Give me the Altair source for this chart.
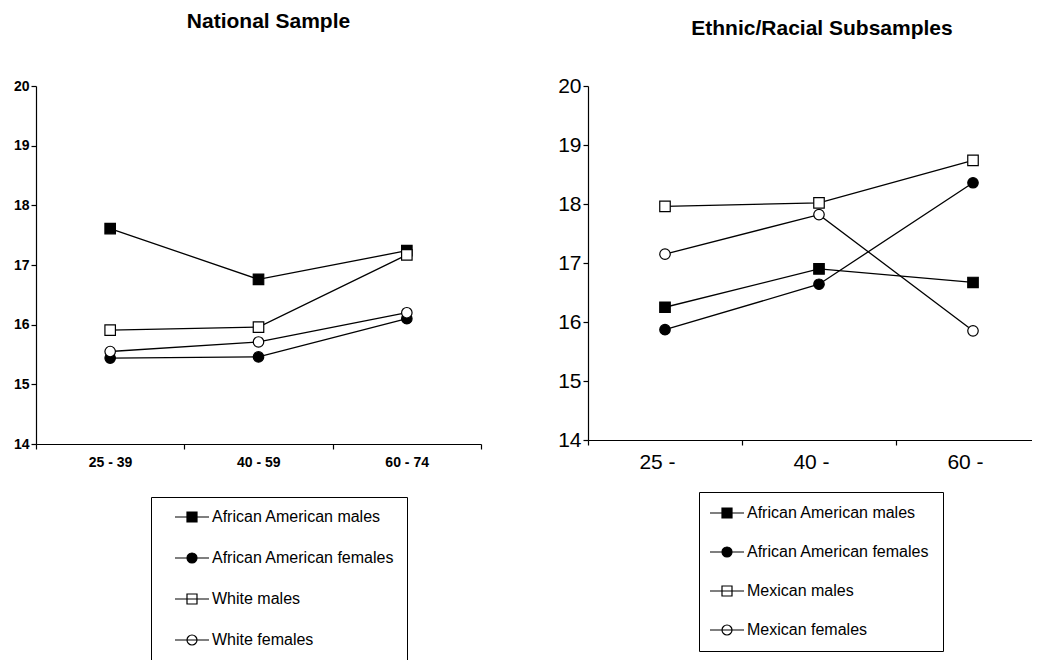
import altair as alt
import pandas as pd

# ---------------- data ----------------
left_groups = ["25 - 39", "40 - 59", "60 - 74"]
right_groups = ["25 -", "40 -", "60 -"]

left_series = ["African American males", "African American females", "White males", "White females"]
right_series = ["African American males", "African American females", "Mexican males", "Mexican females"]

left_aa_males = [17.61, 16.76, 17.24]
left_aa_females = [15.44, 15.46, 16.10]
left_white_males = [15.91, 15.96, 17.17]
left_white_females = [15.55, 15.71, 16.20]

right_aa_males = [16.25, 16.90, 16.67]
right_aa_females = [15.87, 16.64, 18.36]
right_mex_males = [17.96, 18.02, 18.74]
right_mex_females = [17.15, 17.82, 15.85]

y_ticks = [14, 15, 16, 17, 18, 19, 20]

# styles
shapes = ["square", "circle", "square", "circle"]
fills = ["black", "black", "white", "white"]
strokes = ["black", "black", "black", "black"]
legend_paths = [
    "M-3.4,0H3.4M-1,-1H1V1H-1Z",
    "M-3.4,0H3.4M1,0A1,1,0,1,1,-1,0A1,1,0,1,1,1,0Z",
    "M-3.4,0H3.4M-1,-1H1V1H-1Z",
    "M-3.4,0H3.4M1,0A1,1,0,1,1,-1,0A1,1,0,1,1,1,0Z",
]
FONT = "Liberation Sans"


def make_df(series, values_list):
    rows = []
    for s, vals in zip(series, values_list):
        for i, v in enumerate(vals):
            rows.append({"series": s, "idx": i, "value": v})
    return pd.DataFrame(rows)


def label_expr(groups):
    # ticks sit on band boundaries (idx - 0.5); label each with the group to its right
    expr = "''"
    for i in reversed(range(len(groups))):
        expr = f"datum.value < {i} ? '{groups[i]}' : ({expr})"
    return expr


def panel(df, series, groups, n_ticks, width, height, xmax, title, title_offset, title_dx,
          tick_font, tick_weight, label_offset, legend_kw):
    x_axis = alt.Axis(
        values=[i - 0.5 for i in range(n_ticks)],
        labelExpr=label_expr(groups),
        labelOffset=label_offset,
        labelFlush=False, labelOverlap=False, labelBound=False,
        labelFontSize=tick_font, labelFontWeight=tick_weight, labelFont=FONT,
        labelColor="black", labelPadding=6,
        tickSize=5, tickColor="black", domainColor="black", domainWidth=1.2, tickWidth=1.2,
        grid=False, title=None,
    )
    y_axis = alt.Axis(
        values=y_ticks, labelFontSize=tick_font, labelFontWeight=tick_weight, labelFont=FONT,
        labelColor="black", labelPadding=2, tickSize=5, tickColor="black",
        domainColor="black", domainWidth=1.2, tickWidth=1.2, grid=False, title=None,
    )
    x = alt.X("idx:Q", scale=alt.Scale(domain=[-0.5, xmax], nice=False, zero=False), axis=x_axis)
    y = alt.Y("value:Q", scale=alt.Scale(domain=[14, 20], nice=False, zero=False), axis=y_axis)

    base = alt.Chart(df)
    lines = base.mark_line(color="black", strokeWidth=1.3).encode(
        x=x, y=y, detail="series:N", order="idx:Q"
    )
    points = base.mark_point(stroke="black", strokeWidth=1.2, opacity=1, size=110).encode(
        x=x, y=y,
        shape=alt.Shape("series:N", sort=series,
                        scale=alt.Scale(domain=series, range=shapes), legend=None),
        fill=alt.Fill("series:N", sort=series,
                      scale=alt.Scale(domain=series, range=fills), legend=None),
    )
    leg = alt.Legend(
        orient="none", title=None, strokeColor="black", fillColor="white",
        labelFont=FONT, labelFontSize=16, labelColor="black", labelLimit=400,
        symbolSize=100, symbolStrokeColor="black", symbolStrokeWidth=1.2,
        symbolOpacity=1, **legend_kw,
    )
    legend_layer = base.mark_point(strokeWidth=1.2, opacity=1).encode(
        x=x, y=y,
        shape=alt.Shape("series:N", sort=series,
                        scale=alt.Scale(domain=series, range=legend_paths), legend=leg),
        fill=alt.Fill("series:N", sort=series,
                      scale=alt.Scale(domain=series, range=fills), legend=leg),
        stroke=alt.Stroke("series:N", sort=series,
                          scale=alt.Scale(domain=series, range=strokes), legend=leg),
    ).transform_filter("false")

    return alt.layer(lines, points, legend_layer).resolve_scale(
        shape="independent", fill="independent", stroke="independent"
    ).properties(
        width=width, height=height,
        title=alt.TitleParams(title, fontSize=21, fontWeight="bold", font=FONT, color="black",
                              offset=title_offset, dx=title_dx, anchor="middle"),
    )


left_df = make_df(left_series, [left_aa_males, left_aa_females, left_white_males, left_white_females])
right_df = make_df(right_series, [right_aa_males, right_aa_females, right_mex_males, right_mex_females])

left = panel(left_df, left_series, left_groups, 4, 445, 358, 2.5, "National Sample", 47, 10,
             14, "bold", 74,
             dict(legendX=115, legendY=411, padding=12, symbolOffset=21, labelOffset=12, rowPadding=25))
right = panel(right_df, right_series, right_groups, 3, 444, 354, -0.5 + 444 / 154,
              "Ethnic/Racial Subsamples", 36, 12,
              21, "normal", 69,
              dict(legendX=111, legendY=406, padding=13, symbolOffset=7, labelOffset=12, rowPadding=23))

chart = alt.hconcat(left, right, spacing=2).resolve_scale(
    shape="independent", fill="independent", stroke="independent"
).resolve_legend(shape="independent", fill="independent", stroke="independent").properties(
    padding={"left": 5, "top": 3, "right": 0, "bottom": 0}
).configure(background="white").configure_view(stroke="transparent", strokeWidth=0)

chart.save("out.html", embed_options={"renderer": "svg", "actions": False})
